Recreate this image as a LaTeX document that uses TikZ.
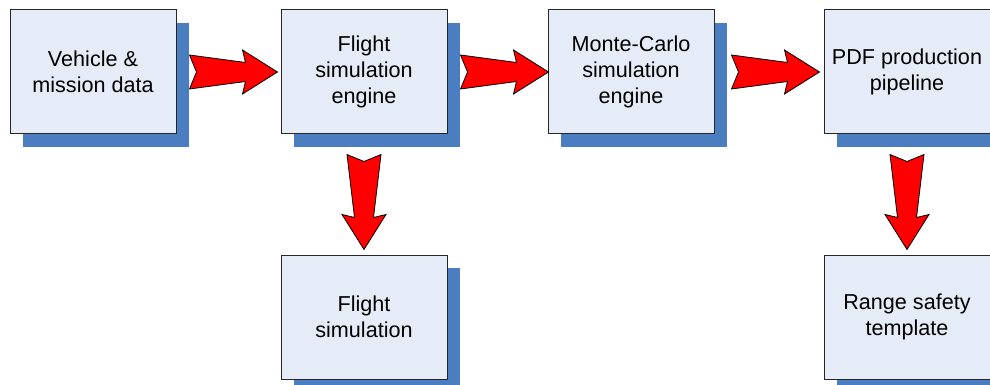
\documentclass[tikz,border=0pt]{standalone}
\usepackage{fontspec}
\setmainfont{Liberation Sans}
\usetikzlibrary{positioning,calc,shadows}
\definecolor{boxfill}{RGB}{230,236,247}
\definecolor{boxshadow}{RGB}{74,126,193}
\newcommand\fatarrow[2]{%
	\coordinate (fa-s) at (#1);
	\coordinate (fa-e) at (#2);
	\coordinate (fa-n) at ($(fa-s)!3.5pt!(fa-e)$);
	\coordinate (fa-h) at ($(fa-e)!17.5pt!(fa-s)$);
	\coordinate (fa-k) at ($(fa-e)!16pt!(fa-s)$);
	\draw [redarrow] ($(fa-s)!8.5pt!90:(fa-e)$) -- (fa-n) -- ($(fa-s)!8.5pt!-90:(fa-e)$)
		-- ($(fa-k)!4.75pt!-90:(fa-e)$) -- ($(fa-h)!11pt!-90:(fa-e)$) -- (fa-e)
		-- ($(fa-h)!11pt!90:(fa-e)$) -- ($(fa-k)!4.75pt!90:(fa-e)$) -- cycle;}

\begin{document}
\begin{tikzpicture}[
		block/.style={draw=black!85,line width=0.5pt,fill=boxfill,minimum width=83pt,minimum height=62pt,inner sep=0pt,align=center,
			font=\fontsize{10.8}{12.9}\selectfont,
			drop shadow={shadow xshift=6.5pt,shadow yshift=-6.5pt,fill=boxshadow,opacity=1}},
		redarrow/.style={draw=black,line width=0.4pt,fill=red,line join=miter}]
		\useasboundingbox (0,0) rectangle (495pt,-192.5pt);
		\node [block] (vehicle) at (46.5pt,-36pt) {Vehicle \&\\mission data};
		\node [block,right=52pt of vehicle] (engine) {Flight\\simulation\\engine};
		\node [block,right=50pt of engine] (montecarlo) {Monte-Carlo\\simulation\\engine};
		\node [block,right=54.5pt of montecarlo] (pdf) {PDF production\\pipeline};
		\node [block,below=60pt of engine] (flight) {Flight\\simulation};
		\node [block,below=60pt of pdf] (range) {Range safety\\template};
		\fatarrow{$(vehicle.east)+(6.5pt,0)$}{$(engine.west)+(-1.5pt,0)$}
		\fatarrow{$(engine.east)+(6.5pt,0)$}{$(montecarlo.west)+(0.5pt,0)$}
		\fatarrow{$(montecarlo.east)+(8.5pt,0)$}{$(pdf.west)+(-2pt,0)$}
		\fatarrow{$(engine.south)+(0,-10pt)$}{$(flight.north)+(0,2.5pt)$}
		\fatarrow{$(pdf.south)+(0,-10pt)$}{$(range.north)+(0,2.5pt)$}
	\end{tikzpicture}
\end{document}
